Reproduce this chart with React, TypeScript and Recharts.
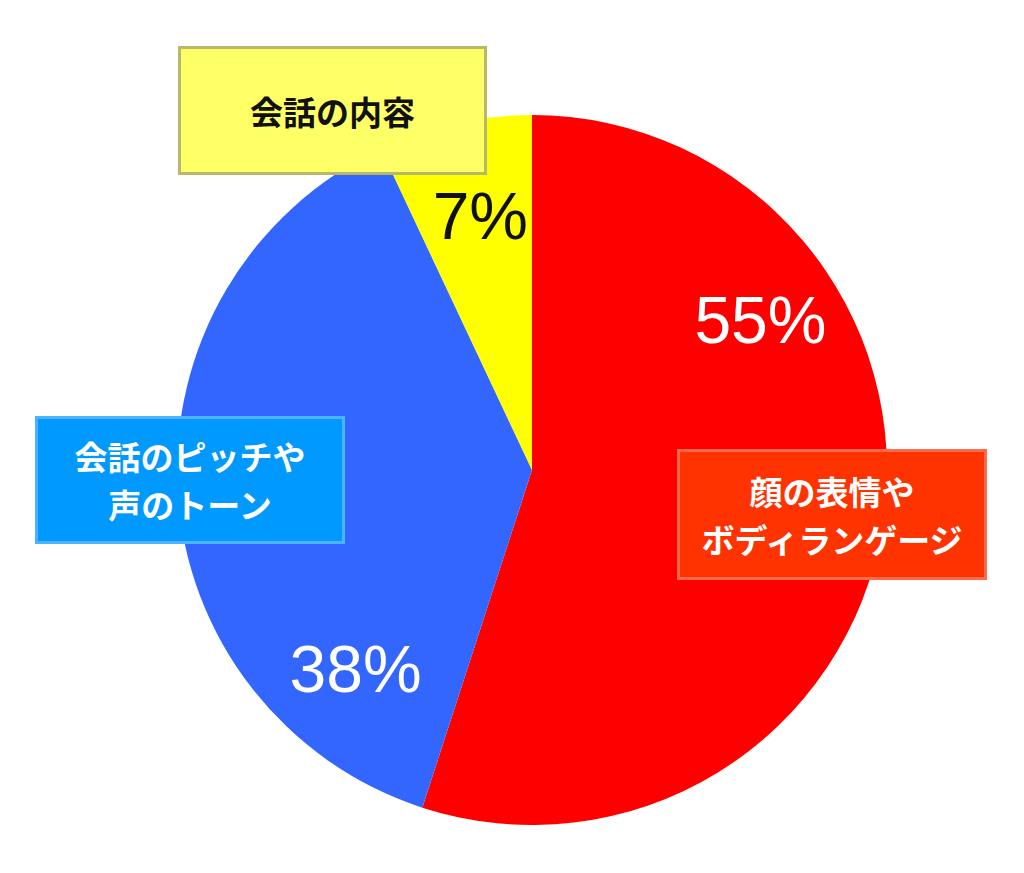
import React from 'react';
import { PieChart, Pie, Cell } from 'recharts';

const categories = ['顔の表情やボディランゲージ', '会話のピッチや声のトーン', '会話の内容'];
const shares = [55, 38, 7];
const sliceColors = ['#FF0000', '#3366FF', '#FFFF00'];
const percentColors = ['#FFFFFF', '#FFFFFF', '#111111'];

// where each percent label sits: angle (deg, clockwise from top) and fraction of radius
const percentPlacement = [
  { angle: 56.7, r: 0.77 },
  { angle: 221.5, r: 0.75 },
  { angle: 348.5, r: 0.73 },
];

// callout boxes
const boxes = [
  { lines: ['顔の表情や', 'ボディランゲージ'], left: 677, top: 449, width: 310, height: 131, bg: '#FF3300', border: '#FF6A4D', color: '#FFFFFF' },
  { lines: ['会話のピッチや', '声のトーン'], left: 35, top: 416, width: 310, height: 128, bg: '#0099FF', border: '#4DB3FF', color: '#FFFFFF' },
  { lines: ['会話の内容'], left: 178, top: 46, width: 309, height: 129, bg: '#FFFF66', border: '#B8B86A', color: '#111111' },
];

const data = categories.map((name, i) => ({ name, value: shares[i] }));

const renderPercent = (props: any) => {
  const { cx, cy, outerRadius, index, value } = props;
  const p = percentPlacement[index];
  const a = (p.angle * Math.PI) / 180;
  const x = cx + Math.sin(a) * outerRadius * p.r;
  const y = cy - Math.cos(a) * outerRadius * p.r;
  return (
    <text
      key={`pct-${index}`}
      x={x}
      y={y}
      fill={percentColors[index]}
      textAnchor="middle"
      dominantBaseline="central"
      fontFamily="'Liberation Sans', Arial, sans-serif"
      fontSize={66}
    >
      {value}%
    </text>
  );
};

export default function App() {
  return (
    <div style={{ position: 'absolute', left: 0, top: 0, width: 1024, height: 873, background: '#FFFFFF', overflow: 'hidden' }}>
      <PieChart width={1024} height={873} margin={{ top: 0, right: 0, bottom: 0, left: 0 }}>
        <Pie
          data={data}
          dataKey="value"
          nameKey="name"
          cx={532}
          cy={470}
          outerRadius={355}
          startAngle={90}
          endAngle={-270}
          stroke="none"
          label={renderPercent}
          labelLine={false}
          isAnimationActive={false}
        >
          {data.map((d, i) => (
            <Cell key={d.name} fill={sliceColors[i]} />
          ))}
        </Pie>
      </PieChart>
      {boxes.map((b) => (
        <div
          key={b.lines.join('')}
          style={{
            position: 'absolute',
            left: b.left,
            top: b.top,
            width: b.width,
            height: b.height,
            boxSizing: 'border-box',
            background: b.bg,
            border: `3px solid ${b.border}`,
            color: b.color,
            display: 'flex',
            flexDirection: 'column',
            alignItems: 'center',
            justifyContent: 'center',
            fontFamily: "'Noto Sans CJK JP', sans-serif",
            fontWeight: 700,
            fontSize: 33,
            lineHeight: '48px',
          }}
        >
          {b.lines.map((l) => (
            <div key={l}>{l}</div>
          ))}
        </div>
      ))}
    </div>
  );
}
